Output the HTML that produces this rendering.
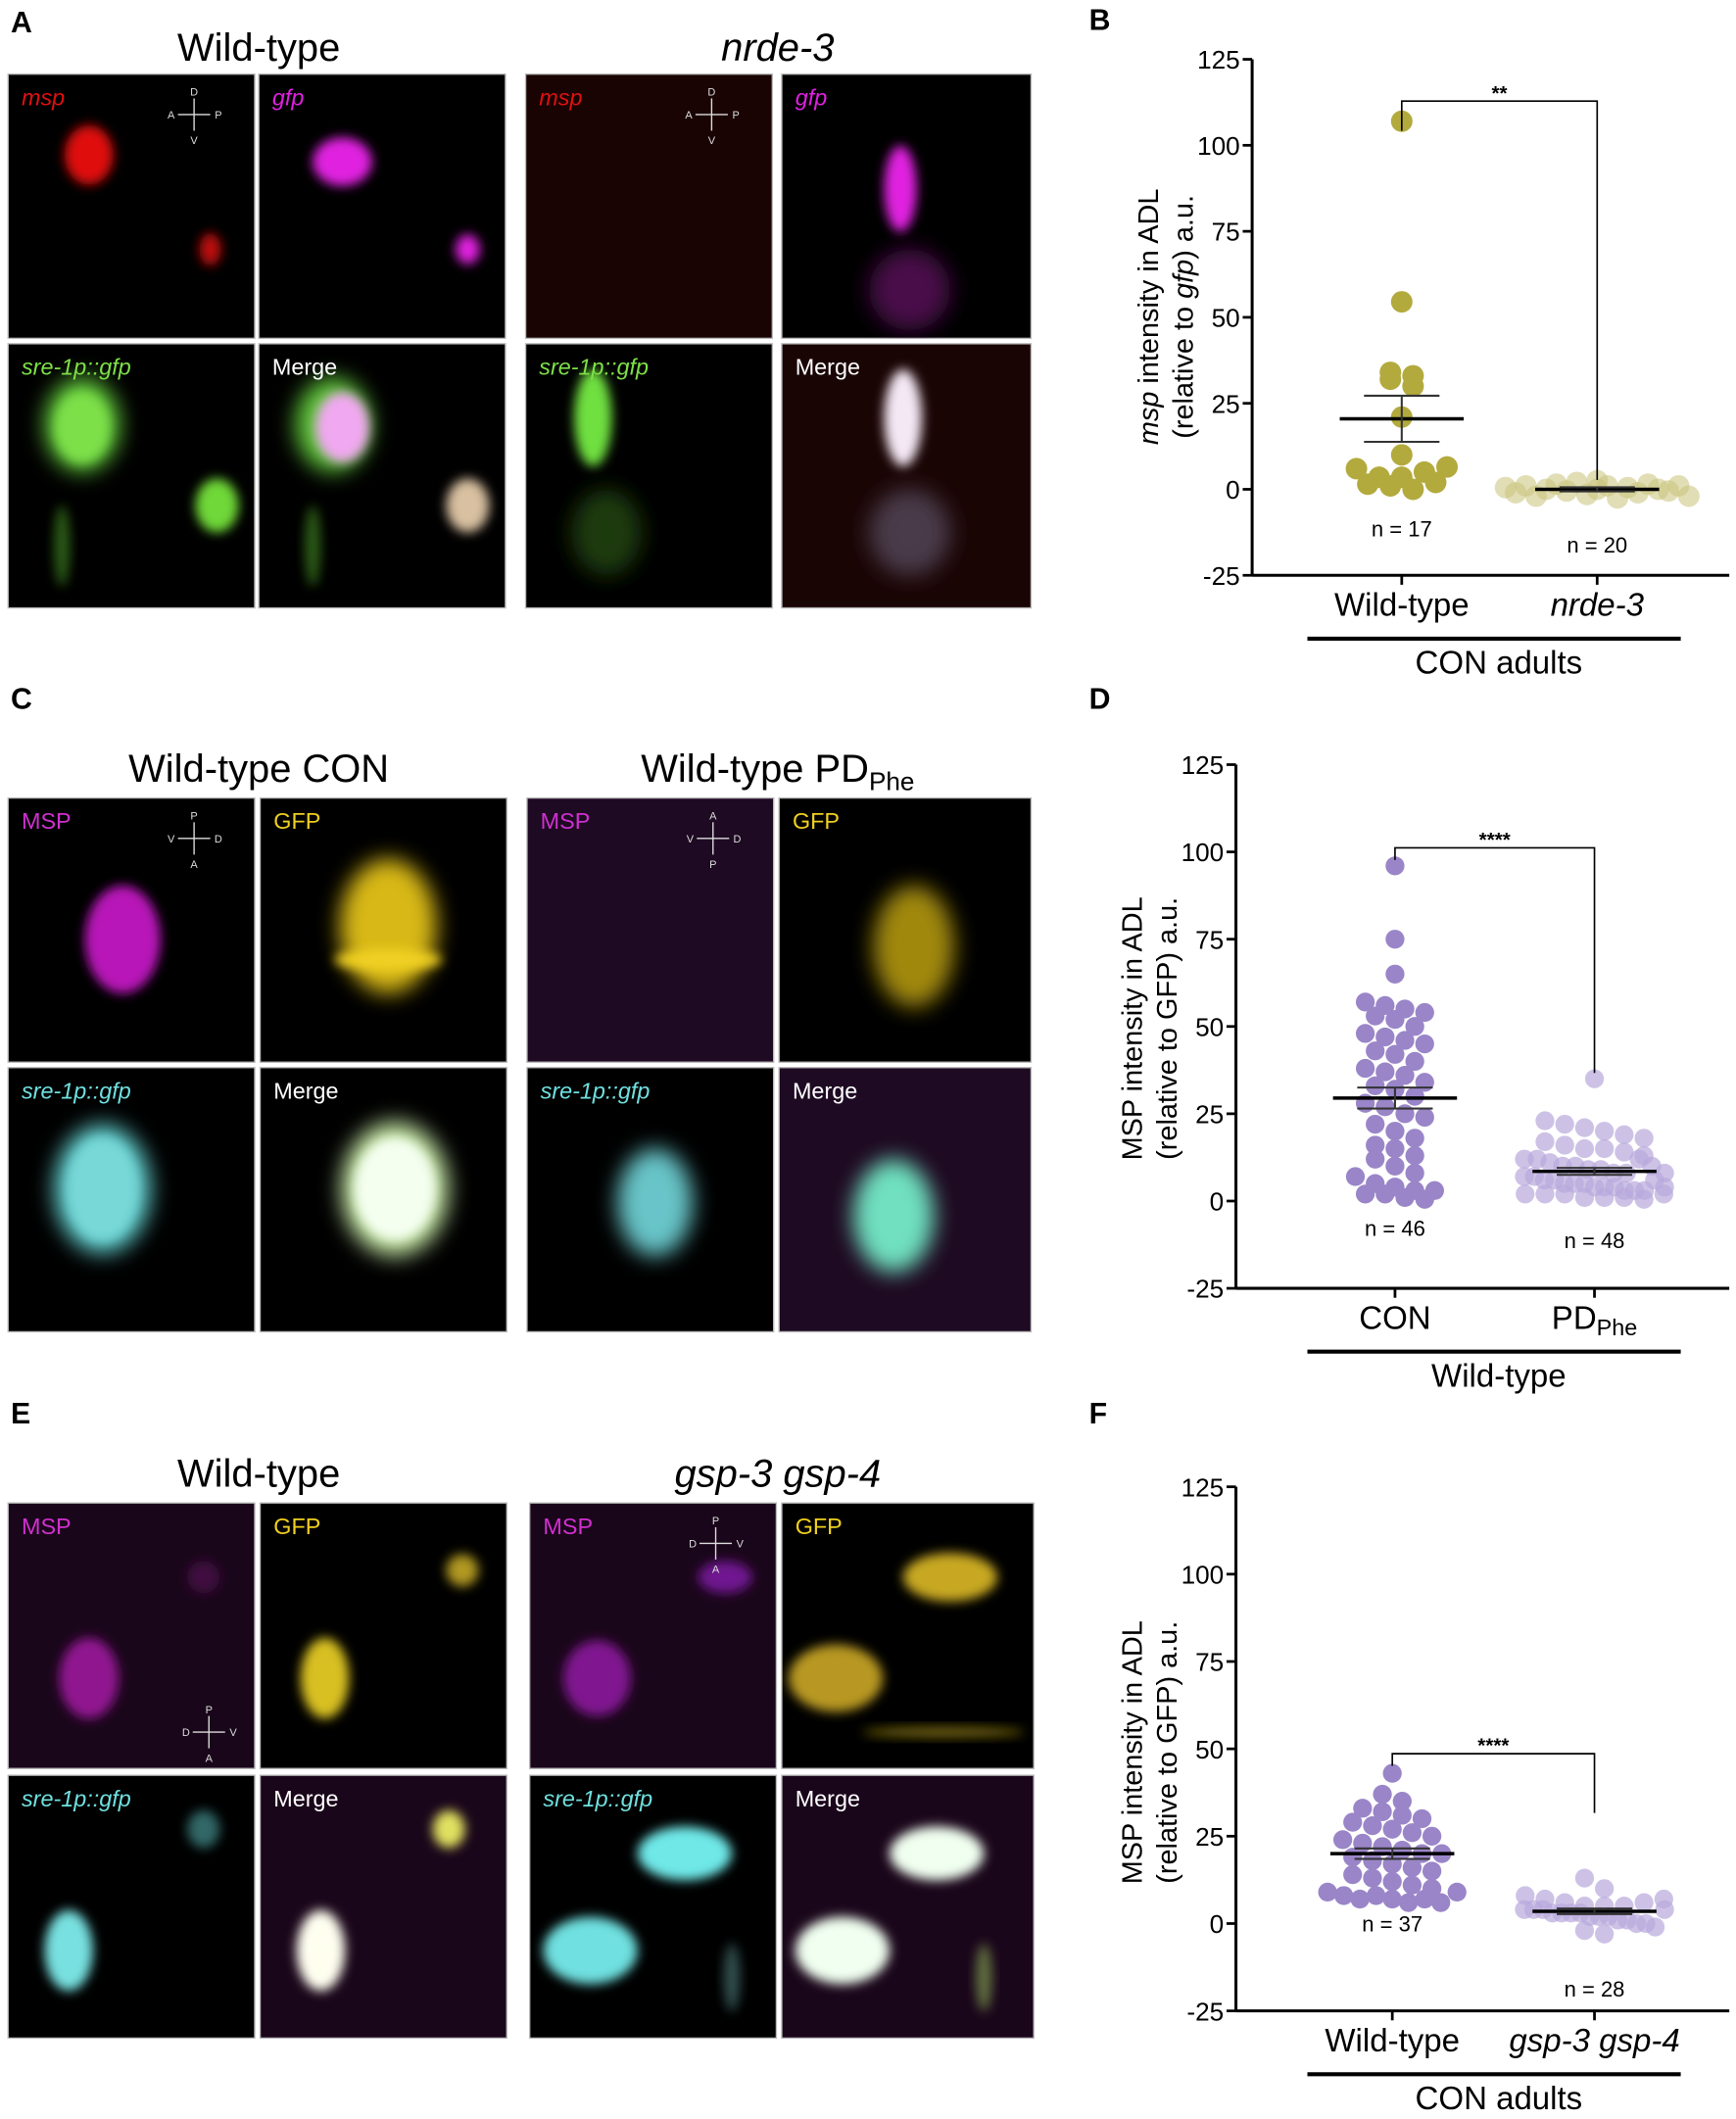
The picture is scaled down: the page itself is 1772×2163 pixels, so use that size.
<!DOCTYPE html>
<html><head><meta charset="utf-8">
<style>
html,body{margin:0;padding:0;background:#fff;}
svg{display:block;font-family:"Liberation Sans",Arial,sans-serif;}
</style></head>
<body>
<svg id="fig" width="1772" height="2163" viewBox="0 0 1288 1572" preserveAspectRatio="none" xmlns="http://www.w3.org/2000/svg">
<defs>
<filter id="b4" x="-50%" y="-50%" width="200%" height="200%"><feGaussianBlur stdDeviation="4"/></filter>
<filter id="b8" x="-50%" y="-50%" width="200%" height="200%"><feGaussianBlur stdDeviation="8"/></filter>
</defs>
<g id="imgs"></g>
<g id="charts"></g>
</svg>
<script>
// ---------- chart data ----------
const yTicks=[125,100,75,50,25,0,-25];
const bCategories=['Wild-type','nrde-3'];
const bWT=[107,54.5,32,34,30,33,21,10,6,3.5,1.5,3.5,5,6.5,1,0,2];
const bNrde=[0.5,-1,1,-2,0,1.5,-0.5,2,-1.5,0,1,-2.5,0.5,-1,1.5,0,-0.5,1,-2,2.5];
const bMeans=[20.5,0];
const bSem=[6.7,0.6];
const bN=['n = 17','n = 20'];
const dCategories=['CON','PD'];
const dCON=[96,75,65,57,56,55,54,53,52,50,48,47,46,45,43,42,40,38,37,36,34,33,32,30,28,27,25,24,22,20,18,16,15,13,12,10,8,7,5,4,3,2,2,1,0.5,3];
const dPD=[35,23,22,21,20,19,18,17,16,15,15,14,13,12,12,11,10,10,9,9,8,8,7,7,6,6,5,5,5,4,4,4,3,3,3,2,2,2,1,1,1,0.5,12,10,8,6,4,2];
const dMeans=[29.5,8.5];
const dSem=[3,1];
const dN=['n = 46','n = 48'];
const fCategories=['Wild-type','gsp-3 gsp-4'];
const fWT=[43,37,35,33,32,31,30,29,28,27,26,25,24,23,22,21,20,20,19,18,17,16,15,14,13,12,11,10,9,8,7,8,7,6,7,6,9];
const fGSP=[13,10,8,7,6,5,5,4,4,4,3,3,3,3,2,2,2,1,1,0,0,-1,-2,-3,5,6,7,4];
const fMeans=[20,3.5];
const fSem=[1.5,0.8];
const fN=['n = 37','n = 28'];

const NS='http://www.w3.org/2000/svg';
function mk(tag,attrs,parent){const e=document.createElementNS(NS,tag);for(const k in attrs)e.setAttribute(k,attrs[k]);parent.appendChild(e);return e;}
function txt(parent,x,y,s,size,opts){opts=opts||{};const t=mk('text',{x:x,y:y,'font-size':size,'text-anchor':opts.anchor||'middle',fill:opts.fill||'#000'},parent);if(opts.italic)t.setAttribute('font-style','italic');if(opts.bold)t.setAttribute('font-weight','bold');t.textContent=s;return t;}

const svg=document.getElementById('fig');
const imgs=document.getElementById('imgs');
const charts=document.getElementById('charts');

[['A',8,24],['B',808,22],['C',8,526],['D',808,526],['E',8,1056],['F',808,1056]].forEach(p=>{
  const t=txt(svg,p[1],p[2],p[0],22,{anchor:'start',bold:true});
  
  
});

// ---------- micrographs ----------
function compass(g,x,y,l){
  mk('line',{x1:x-12,y1:y,x2:x+12,y2:y,stroke:'#ddd','stroke-width':1},g);
  mk('line',{x1:x,y1:y-12,x2:x,y2:y+12,stroke:'#ddd','stroke-width':1},g);
  txt(g,x,y-14,l[0],8,{fill:'#ddd'});txt(g,x,y+22,l[1],8,{fill:'#ddd'});
  txt(g,x-17,y+3,l[2],8,{fill:'#ddd'});txt(g,x+18,y+3,l[3],8,{fill:'#ddd'});
}
function tile(x,y,w,h,bg,blobs,label,lc,italic,comp){
  const g=mk('g',{},imgs);
  
  
  mk('rect',{x:x,y:y,width:w,height:h,fill:bg,stroke:'#bbb','stroke-width':1},g);
  const cp=mk('clipPath',{id:'c'+x+'_'+y},g);
  mk('rect',{x:x,y:y,width:w,height:h},cp);
  const bg2=mk('g',{'clip-path':'url(#c'+x+'_'+y+')'},g);
  blobs.forEach(b=>{
    mk('ellipse',{cx:x+b[0],cy:y+b[1],rx:b[2],ry:b[3],fill:b[4],filter:'url(#'+(b[5]||'b4')+')'},bg2);
  });
  txt(g,x+10,y+23,label,17,{anchor:'start',fill:lc,italic:italic});
  if(comp)compass(g,x+w-45,y+30,comp);
}
const W1=183,H1=196;
txt(imgs,192,45,'Wild-type',29);
txt(imgs,577,45,'nrde-3',29,{italic:true});
tile(6,55,W1,H1,'#000',[[60,60,18,22,'#e01010'],[150,130,8,12,'#c01010']],'msp','#e01010',true,['D','V','A','P']);
tile(192,55,W1,H1,'#000',[[62,65,22,18,'#e020e0'],[155,130,9,11,'#e020e0']],'gfp','#e020e0',true);
tile(6,255,W1,H1,'#000',[[55,60,28,35,'#5ec43a','b8'],[55,62,20,26,'#7ee048'],[155,120,16,20,'#6fd838'],[40,150,6,30,'#2a5a18']],'sre-1p::gfp','#7ee048',true);
tile(192,255,W1,H1,'#000',[[55,60,28,35,'#5ec43a','b8'],[62,62,20,26,'#f0a8f0'],[155,120,16,20,'#d8c0a0'],[40,150,6,30,'#2a5a18']],'Merge','#fff',false);
tile(390,55,W1,H1,'#1a0303',[],'msp','#e01010',true,['D','V','A','P']);
tile(580,55,185,H1,'#000',[[88,85,12,32,'#e020e0'],[95,160,30,30,'#4a0c4a','b8']],'gfp','#e020e0',true);
tile(390,255,W1,H1,'#000',[[50,55,14,36,'#70e040'],[60,140,26,32,'#1c3a10','b8']],'sre-1p::gfp','#7ee048',true);
tile(580,255,185,H1,'#1a0505',[[90,55,14,36,'#f4e8f4'],[95,140,30,32,'#4a3a4a','b8']],'Merge','#fff',false);
txt(imgs,192,580,'Wild-type CON',29);
const tc=txt(imgs,577,580,'Wild-type PD',29);
const sub=mk('tspan',{'font-size':19,dy:6},tc);sub.textContent='Phe';
tile(6,592,W1,H1,'#000',[[85,105,28,40,'#b818b8']],'MSP','#d030d0',false,['P','A','V','D']);
tile(193,592,W1,H1,'#000',[[95,95,36,50,'#d8b818','b8'],[95,120,40,8,'#f0d020']],'GFP','#f0d020',false);
tile(6,792,W1,H1,'#000',[[70,90,36,48,'#60c8c8','b8'],[70,90,26,38,'#78d8d8']],'sre-1p::gfp','#70e0e0',true);
tile(193,792,W1,H1,'#000',[[100,90,40,50,'#c0e0a0','b8'],[100,90,30,38,'#f4fff0']],'Merge','#fff',false);
tile(391,592,W1,H1,'#1e0a22',[],'MSP','#d030d0',false,['A','P','V','D']);
tile(578,592,187,H1,'#000',[[100,110,30,45,'#a08810','b8']],'GFP','#f0d020',false);
tile(391,792,W1,H1,'#000',[[95,100,28,40,'#68c4c8','b8']],'sre-1p::gfp','#70e0e0',true);
tile(578,792,187,H1,'#1e0a22',[[85,110,30,42,'#70e0c0','b8']],'Merge','#fff',false);
txt(imgs,192,1103,'Wild-type',29);
txt(imgs,577,1103,'gsp-3 gsp-4',29,{italic:true});
tile(6,1115,W1,197,'#1a061a',[[60,130,22,30,'#901890'],[145,55,12,12,'#401040']],'MSP','#d030d0',false);
compass(imgs,155,1285,['P','A','D','V']);
tile(193,1115,W1,197,'#000',[[48,130,18,30,'#d8c020'],[150,50,12,12,'#b09820']],'GFP','#f0d020',false);
tile(6,1317,W1,195,'#000',[[45,130,18,30,'#78e0e0'],[145,40,12,14,'#306868']],'sre-1p::gfp','#70e0e0',true);
tile(193,1317,W1,195,'#1a061a',[[45,130,18,30,'#fffff0'],[140,40,12,14,'#e0e060']],'Merge','#fff',false);
tile(393,1115,W1,197,'#1a061a',[[145,55,20,12,'#701890'],[50,130,25,28,'#801890']],'MSP','#d030d0',false,['P','A','D','V']);
tile(580,1115,187,197,'#000',[[125,55,35,18,'#c8a820'],[40,130,35,25,'#b89820'],[120,170,60,4,'#706010']],'GFP','#f0d020',false);
tile(393,1317,W1,195,'#000',[[115,58,35,20,'#70e8e8'],[45,130,35,25,'#70e0e0'],[150,150,6,25,'#305050']],'sre-1p::gfp','#70e0e0',true);
tile(580,1317,187,195,'#1a061a',[[115,58,35,20,'#f0fff0'],[45,130,35,25,'#f0fff0'],[150,150,6,25,'#607040']],'Merge','#fff',false);

// ---------- charts ----------
function swarm(vals,yf,cx,r,hw){
  const rowH=2*r*0.95;
  const rows={};
  vals.forEach((v,i)=>{const y=yf(v);const k=Math.round(y/rowH);(rows[k]=rows[k]||[]).push(i);});
  const out=[];
  Object.keys(rows).forEach(k=>{
    const idx=rows[k];const n=idx.length;
    let sp=2*r*1.05;
    if(n>1&&(n-1)*sp/2>hw)sp=2*hw/(n-1);
    idx.forEach((i,j)=>{out[i]=[cx+(j-(n-1)/2)*sp,yf(vals[i])];});
  });
  return out;
}
function chart(c){
  const g=mk('g',{},charts);
  
  
  const yf=v=>c.y0-(v/25)*(c.y0-c.y25);
  const ax=c.ax;
  const ya=mk('line',{x1:ax,y1:yf(125),x2:ax,y2:yf(-25),stroke:'#000','stroke-width':2.2},g);
  
  
  const xa=mk('line',{x1:ax,y1:yf(-25),x2:1283,y2:yf(-25),stroke:'#000','stroke-width':2.2},g);
  
  
  yTicks.forEach(v=>{
    mk('line',{x1:ax-7,y1:yf(v),x2:ax,y2:yf(v),stroke:'#000','stroke-width':2},g);
    const t=txt(g,ax-9,yf(v)+7,String(v),19,{anchor:'end'});
    
    
  });
  const tt=mk('text',{transform:'translate('+(ax-70)+','+c.ymid+') rotate(-90)','font-size':21,'text-anchor':'middle'},g);
  
  
  c.ytitle1(tt);
  const tt2=mk('text',{transform:'translate('+(ax-44)+','+c.ymid+') rotate(-90)','font-size':21,'text-anchor':'middle'},g);
  
  
  c.ytitle2(tt2);
  c.groups.forEach((vals,gi)=>{
    const cx=c.xs[gi];
    mk('line',{x1:cx,y1:yf(-25),x2:cx,y2:yf(-25)+7,stroke:'#000','stroke-width':2},g);
    const pts=swarm(vals,yf,cx,c.r,c.hw[gi]);
    pts.forEach(p=>{
      const d=mk('circle',{cx:p[0],cy:p[1],r:c.r,fill:c.colors[gi],'fill-opacity':c.op[gi]},g);
      
      
    });
    const m=c.means[gi],s=c.sem[gi];
    const ml=mk('line',{x1:cx-46,y1:yf(m),x2:cx+46,y2:yf(m),stroke:'#000','stroke-width':2.5},g);
    
    
    mk('line',{x1:cx,y1:yf(m+s),x2:cx,y2:yf(m-s),stroke:'#333','stroke-width':1.5},g);
    mk('line',{x1:cx-28,y1:yf(m+s),x2:cx+28,y2:yf(m+s),stroke:'#333','stroke-width':1.5},g);
    mk('line',{x1:cx-28,y1:yf(m-s),x2:cx+28,y2:yf(m-s),stroke:'#333','stroke-width':1.5},g);
    const nt=txt(g,cx,c.ny[gi],c.n[gi],16);
    
    
  });
  const by=c.by;
  mk('path',{d:'M'+c.xs[0]+' '+c.bl+' V'+by+' H'+c.xs[1]+' V'+c.br,fill:'none',stroke:'#000','stroke-width':1.2},g);
  const st=txt(g,(c.xs[0]+c.xs[1])/2,by-1,c.stars,15,{bold:true});
  
  
  const ly=yf(-25)+30;
  c.labels(g,ly);
  mk('line',{x1:970,y1:ly+17,x2:1247,y2:ly+17,stroke:'#000','stroke-width':3},g);
  const gl=txt(g,1112,ly+43,c.group,24);
  
  
}
function span(t,s,it){const e=mk('tspan',{},t);if(it)e.setAttribute('font-style','italic');e.textContent=s;return e;}

chart({name:'chart-b',ax:929,y0:363,y25:299.2,ymid:235,xs:[1040,1185],r:8,hw:[68,68],
  groups:[bWT,bNrde],means:bMeans,sem:bSem,n:bN,ny:[398,410],colors:['#b3aa3e','#c8c27a'],op:[1,0.55],
  by:75,bl:97,br:356,stars:'**',group:'CON adults',
  ytitle1:t=>{span(t,'msp',true);span(t,' intensity in ADL');},
  ytitle2:t=>{span(t,'(relative to ');span(t,'gfp',true);span(t,') a.u.');},
  labels:(g,ly)=>{const a=txt(g,1040,ly,bCategories[0],24);
    const b=txt(g,1185,ly,bCategories[1],24,{italic:true});}
});
chart({name:'chart-d',ax:917,y0:891,y25:826.25,ymid:763,xs:[1035,1183],r:7,hw:[52,52],
  groups:[dCON,dPD],means:dMeans,sem:dSem,n:dN,ny:[917,926],colors:['#9a85c8','#b8a8dc'],op:[1,0.7],
  by:629,bl:638,br:796,stars:'****',group:'Wild-type',
  ytitle1:t=>{span(t,'MSP intensity in ADL');},
  ytitle2:t=>{span(t,'(relative to GFP) a.u.');},
  labels:(g,ly)=>{const a=txt(g,1035,ly,dCategories[0],24);
    const b=txt(g,1183,ly,dCategories[1],24);
    const s=mk('tspan',{'font-size':17,dy:5},b);s.textContent='Phe';}
});
chart({name:'chart-f',ax:917,y0:1427,y25:1362.2,ymid:1300,xs:[1033,1183],r:7,hw:[48,52],
  groups:[fWT,fGSP],means:fMeans,sem:fSem,n:fN,ny:[1433,1481],colors:['#9a85c8','#b8a8dc'],op:[1,0.7],
  by:1301,bl:1310,br:1345,stars:'****',group:'CON adults',
  ytitle1:t=>{span(t,'MSP intensity in ADL');},
  ytitle2:t=>{span(t,'(relative to GFP) a.u.');},
  labels:(g,ly)=>{const a=txt(g,1033,ly,fCategories[0],24);
    const b=txt(g,1183,ly,fCategories[1],24,{italic:true});}
});
</script>
</body></html>
